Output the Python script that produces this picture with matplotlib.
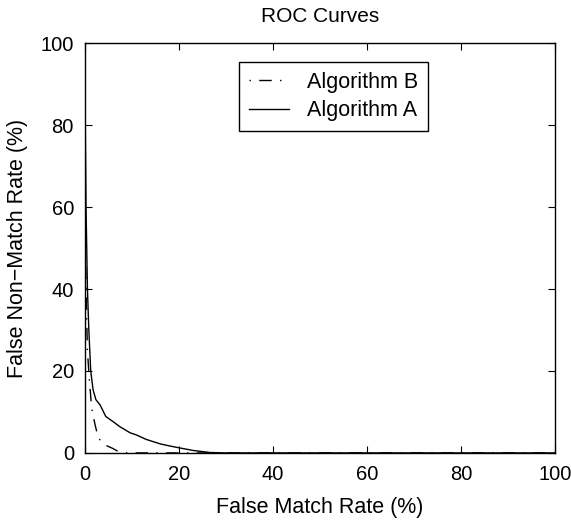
import matplotlib
matplotlib.use("Agg")
import matplotlib.pyplot as plt

plt.rcParams['font.family'] = ['Liberation Sans', 'DejaVu Sans']

# Algorithm A (solid)
fmr_a = [0, 0.05, 0.2, 0.5, 0.8, 1.2, 1.7, 2.3, 3.2, 4.4, 6.0, 7.4, 9.6, 10.9,
         13.0, 16.0, 18.0, 20.2, 23.0, 26.6, 30.0, 40, 60, 80, 100]
fnmr_a = [100, 80, 60, 40, 30, 20, 15.4, 13, 11.7, 8.9, 7.6, 6.4, 4.9, 4.4,
          3.3, 2.2, 1.7, 1.2, 0.6, 0.1, 0, 0, 0, 0, 0]

# Algorithm B (dash-dot)
fmr_b = [0, 0.05, 0.2, 0.5, 0.9, 1.4, 2.1, 2.8, 3.6, 4.5, 5.7, 7.0, 9.0, 100]
fnmr_b = [100, 60, 40, 25, 18, 11, 7, 3.7, 2.6, 1.8, 1.2, 0.4, 0, 0]

fig = plt.figure(figsize=(5.71, 5.20), dpi=100)
ax = fig.add_axes([0.149, 0.129, 0.823, 0.788])

ax.plot(fmr_b, fnmr_b, color='black', linestyle=(0, (1, 6, 9, 6)), linewidth=1.0,
        label='Algorithm B')
ax.plot(fmr_a, fnmr_a, color='black', linestyle='-', linewidth=1.0, label='Algorithm A')

ax.set_xlim(0, 100)
ax.set_ylim(0, 100)
ax.set_xticks([0, 20, 40, 60, 80, 100])
ax.set_yticks([0, 20, 40, 60, 80, 100])
ax.tick_params(direction='in', top=True, right=True, length=5, labelsize=14.5, pad=8)
ax.tick_params(axis='x', pad=9)
for s in ax.spines.values():
    s.set_linewidth(1.0)

ax.set_title('ROC Curves', fontsize=15, pad=15)
ax.set_xlabel('False Match Rate (%)', fontsize=15.5, labelpad=9)
ax.set_ylabel('False Non\u2212Match Rate (%)', fontsize=15.5, labelpad=9)

leg = ax.legend(loc='upper left', bbox_to_anchor=(0.328, 0.954), fontsize=15.5,
                frameon=True, fancybox=False, edgecolor='black', framealpha=1,
                handlelength=1.86, handletextpad=0.85, borderpad=0.45,
                labelspacing=0.35, borderaxespad=0)
leg.get_frame().set_linewidth(1.0)

fig.savefig('out.png', dpi=100)
